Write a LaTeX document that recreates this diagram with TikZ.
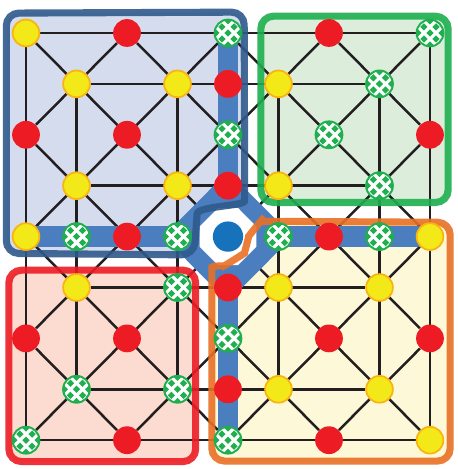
\documentclass[tikz,border=0pt]{standalone}
\usepackage{tikz}
\usetikzlibrary{calc}
\definecolor{boardline}{HTML}{231F20}
\definecolor{ptyellow}{HTML}{F3E919}
\definecolor{ptyellowrim}{HTML}{F9B414}
\definecolor{ptred}{HTML}{ED1C24}
\definecolor{ptgreen}{HTML}{1FAF4F}
\definecolor{hubblue}{HTML}{1672BA}
\definecolor{bandblue}{HTML}{4A7EBF}
\definecolor{tlfill}{HTML}{D4DCEE}
\definecolor{tlrim}{HTML}{2F5A8C}
\definecolor{trfill}{HTML}{DDEDDC}
\definecolor{trrim}{HTML}{1DAF4E}
\definecolor{blfill}{HTML}{FCDBD0}
\definecolor{blrim}{HTML}{ED1C24}
\definecolor{brfill}{HTML}{FDF9D8}
\definecolor{brrim}{HTML}{E87025}
\pgfdeclarelayer{fills}
\pgfdeclarelayer{lines}
\pgfdeclarelayer{band}
\pgfdeclarelayer{rims}
\pgfsetlayers{fills,lines,band,rims,main}
% outlines of the four coloured camps
\newcommand\tlshape{(-0.39,2) -- (-0.39,-0.39) -- (4.32,-0.41) -- (4.33,3.05)
  .. controls (4.33,3.40) and (3.40,3.40) .. (3.37,3.80) -- (3.33,4.36) -- (-0.39,4.33) -- cycle}
\newcommand\trshape{(4.65,1.5) -- (4.65,-0.33) -- (8.36,-0.33) -- (8.36,3.33) -- (4.65,3.33) -- cycle}
\newcommand\blshape{(-0.34,6.5) -- (-0.34,4.66) -- (3.36,4.66) -- (3.36,8.42) -- (-0.34,8.42) -- cycle}
\newcommand\brshape{(3.68,6.5) -- (3.68,4.85) .. controls (3.68,4.58) and (3.95,4.56) .. (4.12,4.46)
  .. controls (4.32,4.33) and (4.42,3.98) .. (4.56,3.80) .. controls (4.63,3.72) and (4.72,3.70) .. (4.90,3.70)
  -- (8.40,3.72) -- (8.40,8.41) -- (3.68,8.41) -- cycle}
\tikzset{
  yellowpt/.style={circle, fill=ptyellow, draw=ptyellowrim, line width=1pt,
    minimum size=5.3mm, inner sep=0pt},
  redpt/.style={circle, fill=ptred, minimum size=5.5mm, inner sep=0pt},
  greenpt/.style={circle, fill=white, draw=ptgreen, line width=1.1pt,
    minimum size=5.3mm, inner sep=0pt,
    path picture={\foreach \dx/\dy in {0/0,1/1,1/-1,-1/1,-1/-1,2/0,-2/0,0/2,0/-2}
      \fill[ptgreen,shift={(path picture bounding box.center)}]
        (\dx*1.2mm+0.72mm,\dy*1.2mm) -- ++(-0.72mm,0.72mm) -- ++(-0.72mm,-0.72mm) -- ++(0.72mm,-0.72mm) -- cycle;}},
  hubpt/.style={circle, fill=hubblue, minimum size=6mm, inner sep=0pt},
  boardedge/.style={line width=1.4pt, draw=boardline},
  bandpath/.style={line width=4mm, draw=bandblue, line join=round},
  rimline/.style={line width=4pt, rounded corners=2.5mm, opacity=0.9},
  campfill/.style={rounded corners=2.5mm}
}
\begin{document}
\begin{tikzpicture}[x=1cm,y=-1.008cm]
  \useasboundingbox (-0.515,-0.648) rectangle (8.535,8.566);
  % points, row by row
  \node[yellowpt] (p00) at (0,0) {};
  \node[redpt]    (p20) at (2,0) {};
  \node[greenpt]  (p40) at (4,0) {};
  \node[redpt]    (p60) at (6,0) {};
  \node[greenpt]  (p80) at (8,0) {};
  \node[yellowpt] (p11) at (1,1) {};
  \node[yellowpt] (p31) at (3,1) {};
  \node[redpt]    (p41) at (4,1) {};
  \node[yellowpt] (p51) at (5,1) {};
  \node[greenpt]  (p71) at (7,1) {};
  \node[redpt]    (p02) at (0,2) {};
  \node[redpt]    (p22) at (2,2) {};
  \node[greenpt]  (p42) at (4,2) {};
  \node[greenpt]  (p62) at (6,2) {};
  \node[redpt]    (p82) at (8,2) {};
  \node[yellowpt] (p13) at (1,3) {};
  \node[yellowpt] (p33) at (3,3) {};
  \node[redpt]    (p43) at (4,3) {};
  \node[yellowpt] (p53) at (5,3) {};
  \node[greenpt]  (p73) at (7,3) {};
  \node[yellowpt] (p04) at (0,4) {};
  \node[greenpt]  (p14) at (1,4) {};
  \node[redpt]    (p24) at (2,4) {};
  \node[greenpt]  (p34) at (3,4) {};
  \node[hubpt]    (p44) at (4,4) {};
  \node[greenpt]  (p54) at (5,4) {};
  \node[redpt]    (p64) at (6,4) {};
  \node[greenpt]  (p74) at (7,4) {};
  \node[yellowpt] (p84) at (8,4) {};
  \node[yellowpt] (p15) at (1,5) {};
  \node[greenpt]  (p35) at (3,5) {};
  \node[redpt]    (p45) at (4,5) {};
  \node[yellowpt] (p55) at (5,5) {};
  \node[yellowpt] (p75) at (7,5) {};
  \node[redpt]    (p06) at (0,6) {};
  \node[redpt]    (p26) at (2,6) {};
  \node[greenpt]  (p46) at (4,6) {};
  \node[redpt]    (p66) at (6,6) {};
  \node[redpt]    (p86) at (8,6) {};
  \node[greenpt]  (p17) at (1,7) {};
  \node[greenpt]  (p37) at (3,7) {};
  \node[redpt]    (p47) at (4,7) {};
  \node[yellowpt] (p57) at (5,7) {};
  \node[yellowpt] (p77) at (7,7) {};
  \node[greenpt]  (p08) at (0,8) {};
  \node[redpt]    (p28) at (2,8) {};
  \node[greenpt]  (p48) at (4,8) {};
  \node[redpt]    (p68) at (6,8) {};
  \node[yellowpt] (p88) at (8,8) {};
  % camp areas
  \begin{pgfonlayer}{fills}
    \fill[white] (-0.515,-0.648) rectangle (8.535,8.566);
    \fill[tlfill,campfill] \tlshape;
    \fill[trfill,campfill] \trshape;
    \fill[blfill,campfill] \blshape;
    \fill[brfill,campfill] \brshape;
  \end{pgfonlayer}
  % board lines
  \begin{pgfonlayer}{lines}
    \draw[boardedge] (p00) -- (p80);
    \draw[boardedge] (p11) -- (p71);
    \draw[boardedge] (p13) -- (p73);
    \draw[boardedge] (p04) -- (p84);
    \draw[boardedge] (p15) -- (p75);
    \draw[boardedge] (p17) -- (p77);
    \draw[boardedge] (p08) -- (p88);
    \draw[boardedge] (p00) -- (p08);
    \draw[boardedge] (p11) -- (p17);
    \draw[boardedge] (p31) -- (p37);
    \draw[boardedge] (p40) -- (p48);
    \draw[boardedge] (p51) -- (p57);
    \draw[boardedge] (p71) -- (p77);
    \draw[boardedge] (p80) -- (p88);
    \draw[boardedge] (p00) -- (p88);
    \draw[boardedge] (p20) -- (p86);
    \draw[boardedge] (p02) -- (p68);
    \draw[boardedge] (p40) -- (p84);
    \draw[boardedge] (p04) -- (p48);
    \draw[boardedge] (p60) -- (p82);
    \draw[boardedge] (p06) -- (p28);
    \draw[boardedge] (p20) -- (p02);
    \draw[boardedge] (p40) -- (p04);
    \draw[boardedge] (p60) -- (p06);
    \draw[boardedge] (p80) -- (p08);
    \draw[boardedge] (p82) -- (p28);
    \draw[boardedge] (p84) -- (p48);
    \draw[boardedge] (p86) -- (p68);
  \end{pgfonlayer}
  % blue cross and the ring round the hub
  \begin{pgfonlayer}{band}
    \draw[bandpath] (p40.center) -- (p48.center);
    \draw[bandpath] (p04.center) -- (p84.center);
    \draw[bandpath] (p43.center) -- (p54.center) -- (p45.center) -- (p34.center) -- cycle;
    \fill[white] (4.56,3.80) -- (4.56,4.20) -- (4.20,4.56) -- (3.80,4.56)
      -- (3.44,4.20) -- (3.44,3.80) -- (3.80,3.44) -- (4.20,3.44) -- cycle;
  \end{pgfonlayer}
  \begin{pgfonlayer}{rims}
    \draw[rimline,draw=tlrim] \tlshape;
    \draw[rimline,draw=trrim] \trshape;
    \draw[rimline,draw=blrim] \blshape;
    \draw[rimline,draw=brrim] \brshape;
  \end{pgfonlayer}
\end{tikzpicture}
\end{document}
